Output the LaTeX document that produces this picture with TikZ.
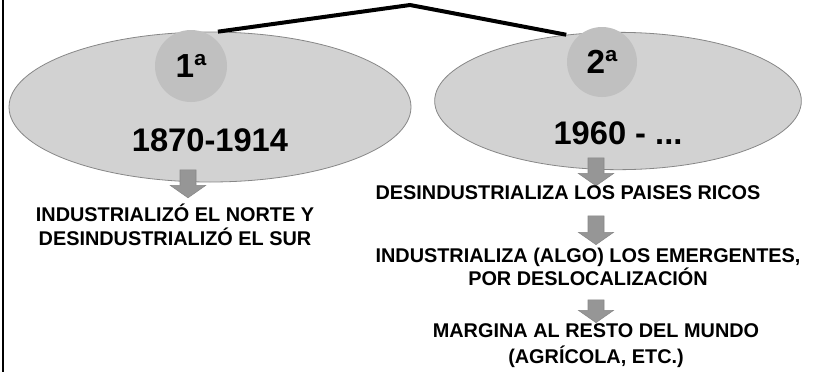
\documentclass[tikz,border=0pt]{standalone}
\usepackage{fontspec}
\setmainfont{Liberation Sans}
\usetikzlibrary{shapes.geometric,shapes.arrows}

\definecolor{ovalgray}{RGB}{210,210,210}
\definecolor{ovalline}{RGB}{135,135,135}
\definecolor{dotgray}{RGB}{192,192,192}
\definecolor{arrowgray}{RGB}{150,150,150}

\tikzset{
  oval/.style={ellipse, draw=ovalline, fill=ovalgray, line width=0.6pt, inner sep=0pt},
  ord/.style={circle, fill=dotgray, inner sep=0pt, font=\bfseries\fontsize{25}{25}\selectfont},
  era/.style={font=\bfseries\fontsize{24.5}{24.5}\selectfont},
  fact/.style={font=\bfseries\fontsize{14.9}{18}\selectfont, align=center},
  down/.style={single arrow, draw=ovalline, fill=arrowgray, rotate=-90, inner sep=5.8pt,
    minimum width=26pt, single arrow head extend=7.2pt, single arrow tip angle=110},
  link/.style={line width=3pt}
}

\begin{document}
\begin{tikzpicture}[x=0.75pt,y=-0.75pt]
  \useasboundingbox (0,0) rectangle (813,372);
  \draw[line width=1.5pt] (3,0) -- (3,372);

  % the two waves
  \node[oval, minimum width=301.5pt, minimum height=112.5pt] (e1) at (210,107) {};
  \node[oval, minimum width=275pt, minimum height=103pt] (e2) at (618,101) {};
  \node[ord, minimum size=54pt] (c1) at (191,66) {1ª};
  \node[ord, minimum size=52.5pt] (c2) at (602,62) {2ª};
  \node[era] (d1) at (210,140) {1870-1914};
  \node[era] (d2) at (618,133) {1960 - ...};

  \coordinate (peak) at (410,5);
  \draw[link] (e1.84) -- (peak) -- (e2.128);

  % first wave
  \node[down, minimum height=21pt] (a1) at (188,181) {};
  \node[fact] (f1) at (175,225) {INDUSTRIALIZÓ EL NORTE Y\\DESINDUSTRIALIZÓ EL SUR};

  % second wave
  \node[down, minimum height=21pt] (b1) at (596,169) {};
  \node[fact] (g1) at (568,193) {DESINDUSTRIALIZA LOS PAISES RICOS};
  \node[down, minimum height=21.5pt] (b2) at (596,227.5) {};
  \node[fact, font=\bfseries\fontsize{14.9}{15}\selectfont] (g2) at (588,267)
    {INDUSTRIALIZA (ALGO) LOS EMERGENTES,\\POR DESLOCALIZACIÓN};
  \node[down, minimum height=17pt] (b3) at (596,308.5) {};
  \node[fact, font=\bfseries\fontsize{14.9}{19}\selectfont] (g3) at (596,345.5)
    {MARGINA AL RESTO DEL MUNDO\\(AGRÍCOLA, ETC.)};
\end{tikzpicture}
\end{document}
